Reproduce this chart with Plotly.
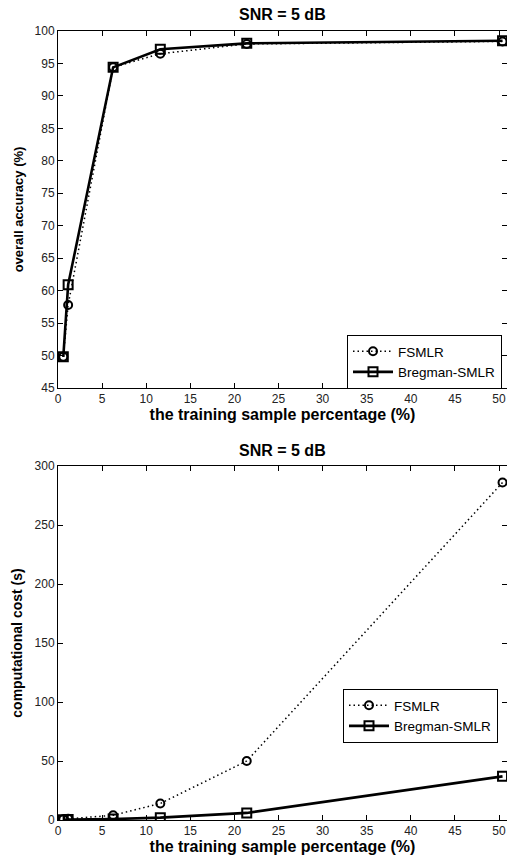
import plotly.graph_objects as go
from plotly.subplots import make_subplots

pct = [0.6, 1.15, 6.25, 11.6, 21.4, 50.4]
acc_fsmlr = [49.8, 57.8, 94.4, 96.5, 98.0, 98.4]
acc_breg = [49.8, 60.9, 94.4, 97.2, 98.1, 98.5]
cost_fsmlr = [0.6, 1.0, 4.0, 14.0, 50.0, 286.0]
cost_breg = [0.2, 0.4, 0.8, 2.0, 6.0, 37.0]

title_txt = "SNR = 5 dB"
xlabel = "the training sample percentage (%)"
ylabel_top = "overall accuracy (%)"
ylabel_bot = "computational cost (s)"

W, H = 507, 862
ml, mr, mt, mb = 58, 0, 31, 42
ph = H - mt - mb
pw = W - ml - mr

def fy(py):
    return (H - mb - py) / ph

fig = make_subplots(rows=2, cols=1)

font = "Liberation Sans, Arial, sans-serif"

def add(row, y1, y2, legend):
    fig.add_trace(go.Scatter(x=pct, y=y1, name="FSMLR", mode="lines+markers",
                             line=dict(color="black", width=1.5, dash="1.5px,3px"),
                             marker=dict(symbol="circle-open", size=8, color="black", line=dict(width=2)),
                             legend=legend), row=row, col=1)
    fig.add_trace(go.Scatter(x=pct, y=y2, name="Bregman-SMLR", mode="lines+markers",
                             line=dict(color="black", width=2.6),
                             marker=dict(symbol="square-open", size=9, color="black", line=dict(width=2)),
                             legend=legend), row=row, col=1)

add(1, acc_fsmlr, acc_breg, "legend")
add(2, cost_fsmlr, cost_breg, "legend2")

axis_common = dict(showgrid=False, zeroline=False, showline=True, mirror="ticks",
                   linecolor="black", linewidth=1, ticks="inside", ticklen=5,
                   tickcolor="black", tickfont=dict(family=font, size=12, color="#222"))

xr = [0, pw / 8.82]
fig.update_xaxes(range=xr, dtick=5, tick0=0, domain=[0, 1], **axis_common)

fig.update_yaxes(range=[45, 100], dtick=5, tick0=45, domain=[fy(388), fy(31)], row=1, col=1, **axis_common)
fig.update_yaxes(range=[0, 300], dtick=50, tick0=0, domain=[fy(820), fy(466)], row=2, col=1, **axis_common)

xfont = dict(family=font, size=16, color="black")
fig.update_xaxes(title=dict(text="<b>" + xlabel + "</b>", font=xfont, standoff=2))
fig.update_yaxes(title=dict(text="<b>" + ylabel_top + "</b>", font=dict(family=font, size=13, color="black"), standoff=8), row=1, col=1)
fig.update_yaxes(title=dict(text="<b>" + ylabel_bot + "</b>", font=dict(family=font, size=14, color="black"), standoff=8), row=2, col=1)

for py in (14, 450):
    fig.add_annotation(text="<b>" + title_txt + "</b>", xref="paper", yref="paper",
                       x=(282 - ml) / pw, y=fy(py), xanchor="center", yanchor="middle",
                       showarrow=False, font=dict(family=font, size=16, color="black"))

leg_common = dict(bgcolor="white", bordercolor="black", borderwidth=1,
                  font=dict(family=font, size=13.5, color="black"),
                  xanchor="left", yanchor="top", tracegroupgap=0, itemwidth=40)
fig.update_layout(
    width=W, height=H,
    margin=dict(l=ml, r=mr, t=mt, b=mb),
    plot_bgcolor="white", paper_bgcolor="white",
    legend=dict(x=(347 - ml) / pw, y=fy(335), **leg_common),
    legend2=dict(x=(343 - ml) / pw, y=fy(689), **leg_common),
)

fig.write_html("out.html", config={"displayModeBar": False},
               post_script="document.body.style.margin='0';document.body.style.padding='0';")
